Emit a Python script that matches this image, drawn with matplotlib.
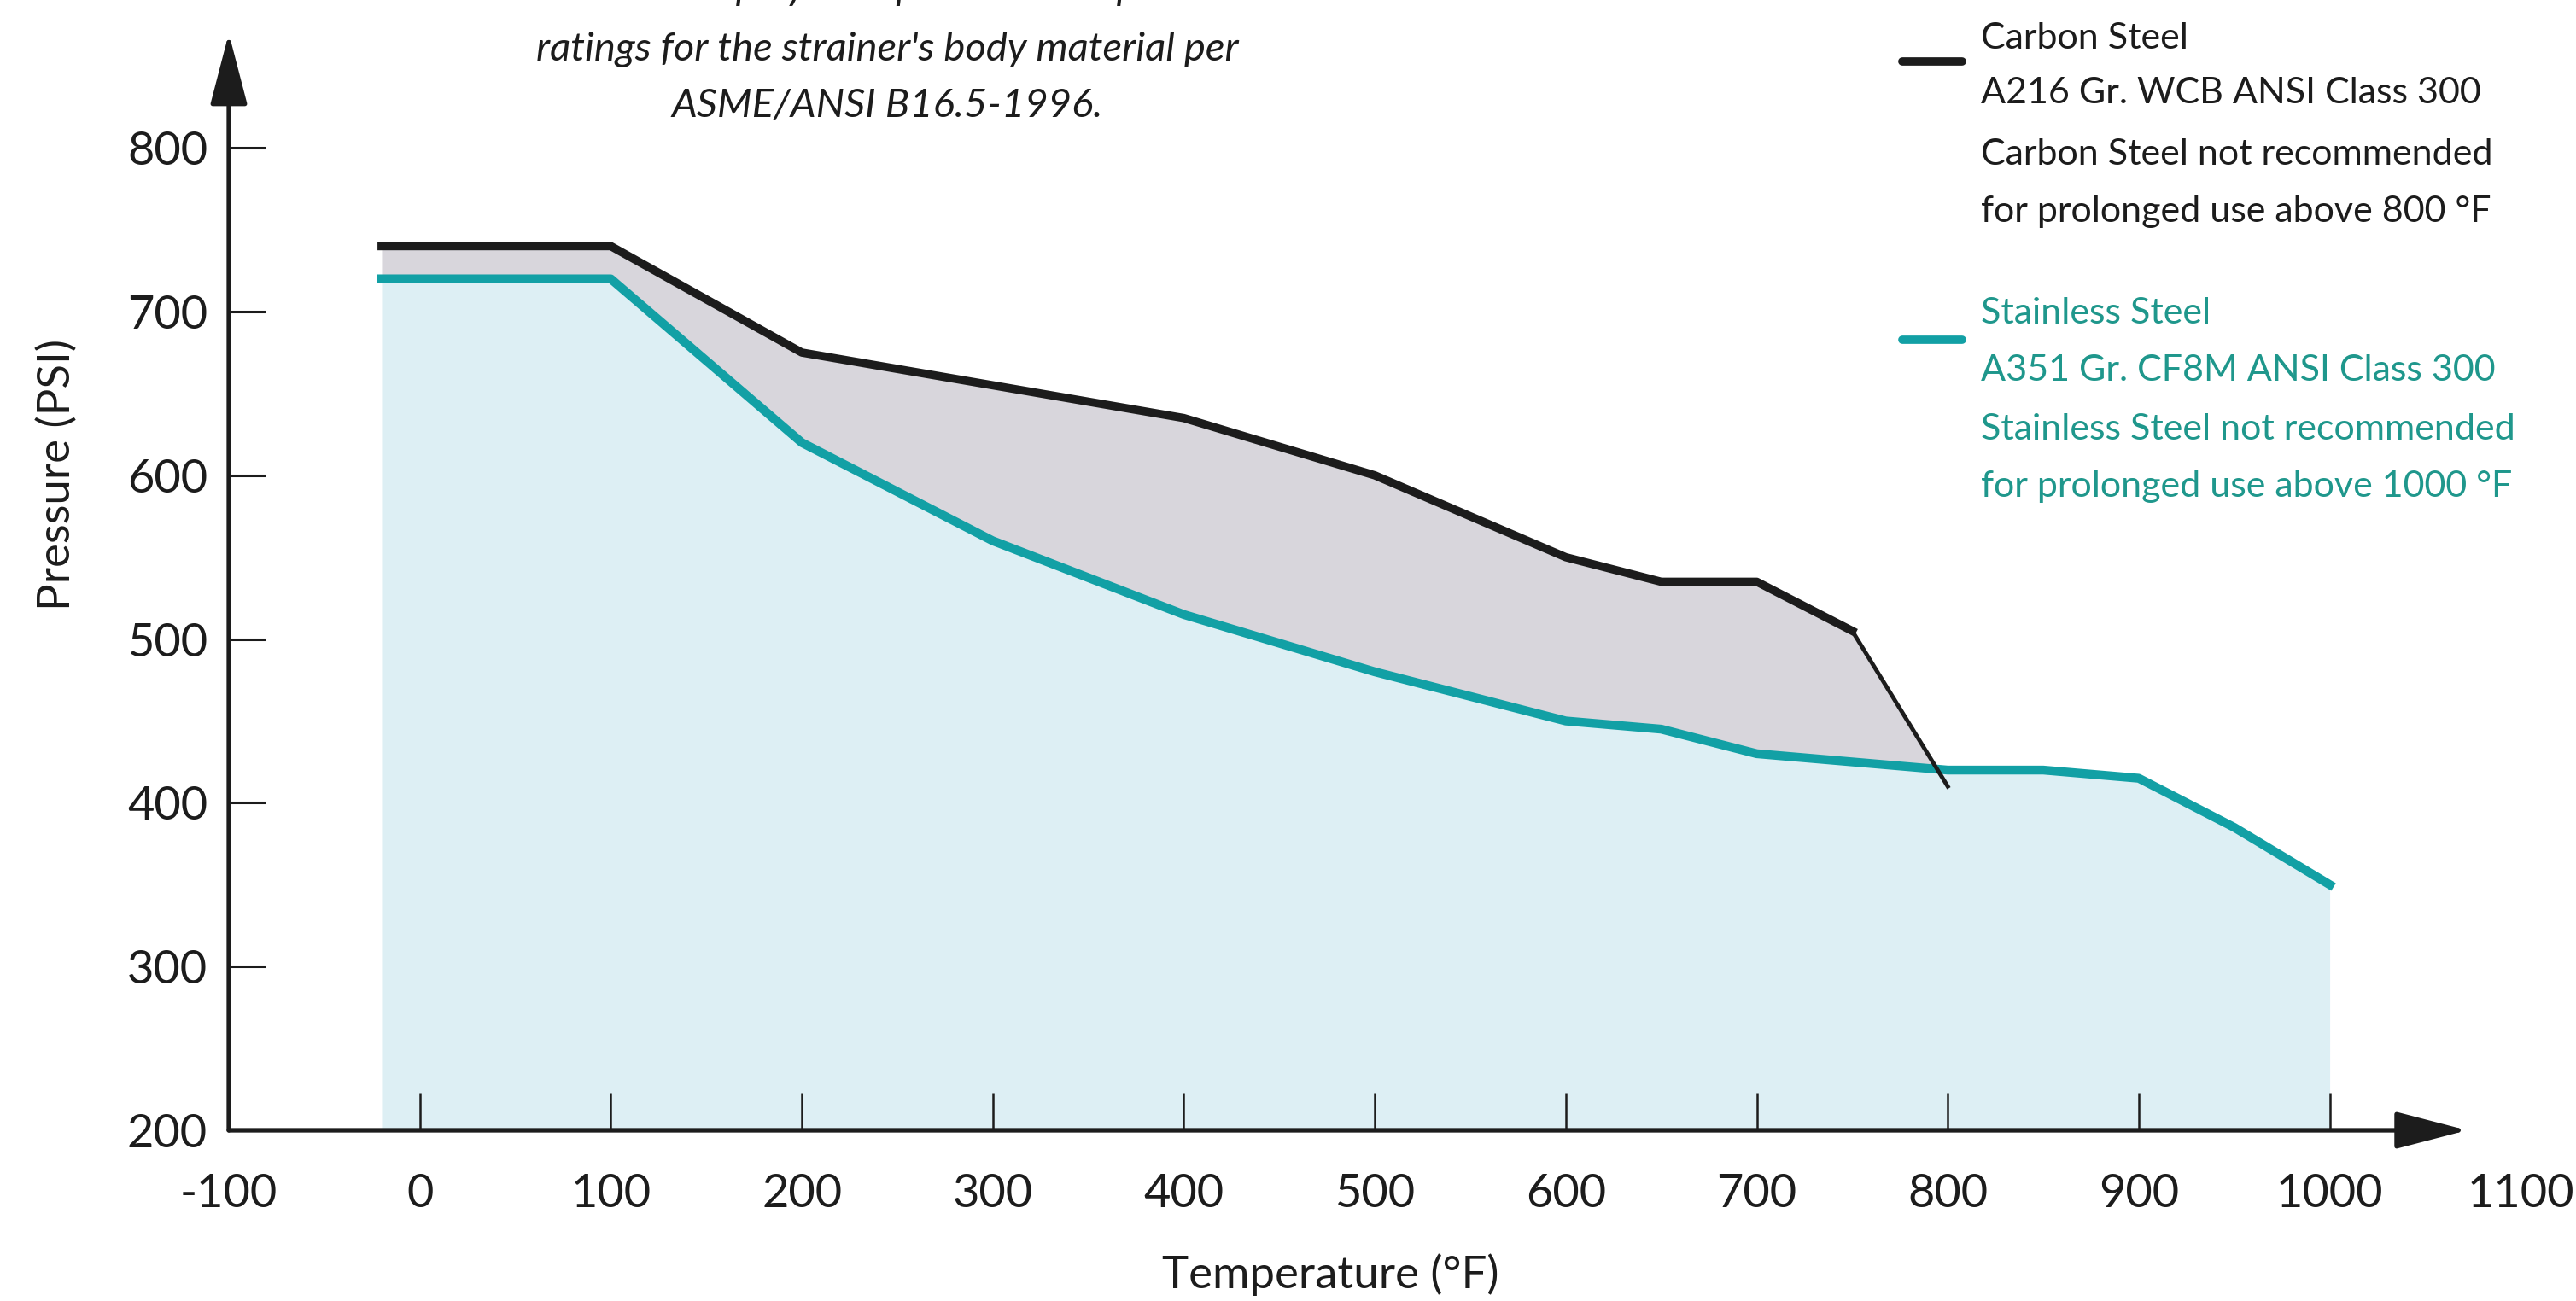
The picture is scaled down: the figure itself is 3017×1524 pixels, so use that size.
import numpy as np
import matplotlib
matplotlib.use("Agg")
import matplotlib.pyplot as plt

plt.rcParams['font.family'] = ['Lato', 'DejaVu Sans']

# pressure-temperature ratings, ASME/ANSI B16.5 class 300
carbon_temp = [-20, 100, 200, 300, 400, 500, 600, 650, 700, 750, 800]
carbon_psi = [740, 740, 675, 655, 635, 600, 550, 535, 535, 505, 410]

stainless_temp = [-20, 100, 200, 300, 400, 500, 600, 650, 700, 750, 800, 850, 900, 950, 1000]
stainless_psi = [720, 720, 620, 560, 515, 480, 450, 445, 430, 425, 420, 420, 415, 385, 350]

xticks = [-100, 0, 100, 200, 300, 400, 500, 600, 700, 800, 900, 1000, 1100]
yticks = [200, 300, 400, 500, 600, 700, 800]

BLACK = '#1c1c1c'
TEAL = '#12a0a5'
TEAL_TXT = '#1f978c'
BLUE_FILL = '#ddeff4'
GREY_FILL = '#d8d6dc'

W, H = 3017, 1524
fig = plt.figure(figsize=(W / 100, H / 100), dpi=100)
fig.patch.set_facecolor('white')

ax = fig.add_axes([268 / W, 200 / H, 2729 / W, 1285 / H])
ax.set_xlim(-100, 1120)
ax.set_ylim(200, 870)
ax.patch.set_alpha(0)
for s in ax.spines.values():
    s.set_visible(False)

# fills
st_x = np.array(stainless_temp)
st_y = np.array(stainless_psi)
ax.fill_between(st_x, 200, st_y, color=BLUE_FILL, lw=0, zorder=1)
common = st_x[st_x <= 800]
c_on = np.interp(common, carbon_temp, carbon_psi)
s_on = st_y[st_x <= 800]
ax.fill_between(common, s_on, c_on, where=c_on >= s_on, interpolate=True,
                color=GREY_FILL, lw=0, zorder=1)

# lines
ax.plot(stainless_temp, stainless_psi, color=TEAL, lw=7.5, zorder=3,
        solid_joinstyle='round')
ax.plot(carbon_temp[:-1], carbon_psi[:-1], color=BLACK, lw=7, zorder=4,
        solid_joinstyle='round')
ax.plot(carbon_temp[-2:], carbon_psi[-2:], color=BLACK, lw=3.5, zorder=4)

# axes with arrows
arrow = dict(arrowstyle='-|>,head_length=1.0,head_width=0.26', color=BLACK,
             lw=3.8, mutation_scale=52, shrinkA=0, shrinkB=0)
ax.annotate('', xy=(1072, 200), xytext=(-100, 200), arrowprops=arrow,
            annotation_clip=False, zorder=6)
ax.annotate('', xy=(-100, 870), xytext=(-100, 200), arrowprops=arrow,
            annotation_clip=False, zorder=6)

ax.set_xticks(xticks)
ax.set_yticks(yticks)
ax.set_xticklabels([str(t) for t in xticks])
ax.set_yticklabels([str(t) for t in yticks])
ax.tick_params(axis='x', direction='in', length=32, width=1.8, color=BLACK,
               pad=36, labelsize=39, labelcolor=BLACK)
ax.tick_params(axis='y', direction='in', length=31, width=2.2, color=BLACK,
               pad=18, labelsize=39, labelcolor=BLACK)
for t in ax.xaxis.get_major_ticks():
    t.tick1line.set_zorder(7)
    if t.get_loc() in (-100, 1100):
        t.tick1line.set_visible(False)
for t in ax.yaxis.get_major_ticks():
    if t.get_loc() == 200:
        t.tick1line.set_visible(False)
ax.xaxis.set_zorder(7)

# axis labels
fig.text(1558 / W, 1 - 1493 / H, 'Temperature (°F)', ha='center', va='center',
         fontsize=38, color=BLACK)
fig.text(67 / W, 1 - 556 / H, 'Pressure (PSI)', ha='center', va='center',
         rotation=90, fontsize=38, color=BLACK)

# note at top (first line runs off the top edge, as in the source)
note = ["This chart displays the pressure-temperature",
        "ratings for the strainer's body material per",
        "ASME/ANSI B16.5-1996."]
for i, line in enumerate(note):
    fig.text(1039 / W, 1 - (-14 + 66 * i + (6 if i else 0)) / H, line,
             ha='center', va='center', fontsize=34, style='italic',
             color=BLACK)

# legend
fig.add_artist(plt.Line2D([2228 / W, 2298 / W], [1 - 72 / H, 1 - 72 / H],
                          color=BLACK, lw=7, solid_capstyle='round'))
fig.add_artist(plt.Line2D([2228 / W, 2298 / W], [1 - 398 / H, 1 - 398 / H],
                          color=TEAL, lw=7, solid_capstyle='round'))
carbon_txt = [("Carbon Steel", 57), ("A216 Gr. WCB ANSI Class 300", 121),
              ("Carbon Steel not recommended", 193),
              ("for prolonged use above 800 °F", 260)]
stainless_txt = [("Stainless Steel", 379), ("A351 Gr. CF8M ANSI Class 300", 446),
                 ("Stainless Steel not recommended", 515),
                 ("for prolonged use above 1000 °F", 582)]
for txt, yb in carbon_txt:
    fig.text(2320 / W, 1 - yb / H, txt, ha='left', va='baseline', fontsize=31,
             color=BLACK)
for txt, yb in stainless_txt:
    fig.text(2320 / W, 1 - yb / H, txt, ha='left', va='baseline', fontsize=31,
             color=TEAL_TXT)

fig.savefig('out.png', dpi=100)
